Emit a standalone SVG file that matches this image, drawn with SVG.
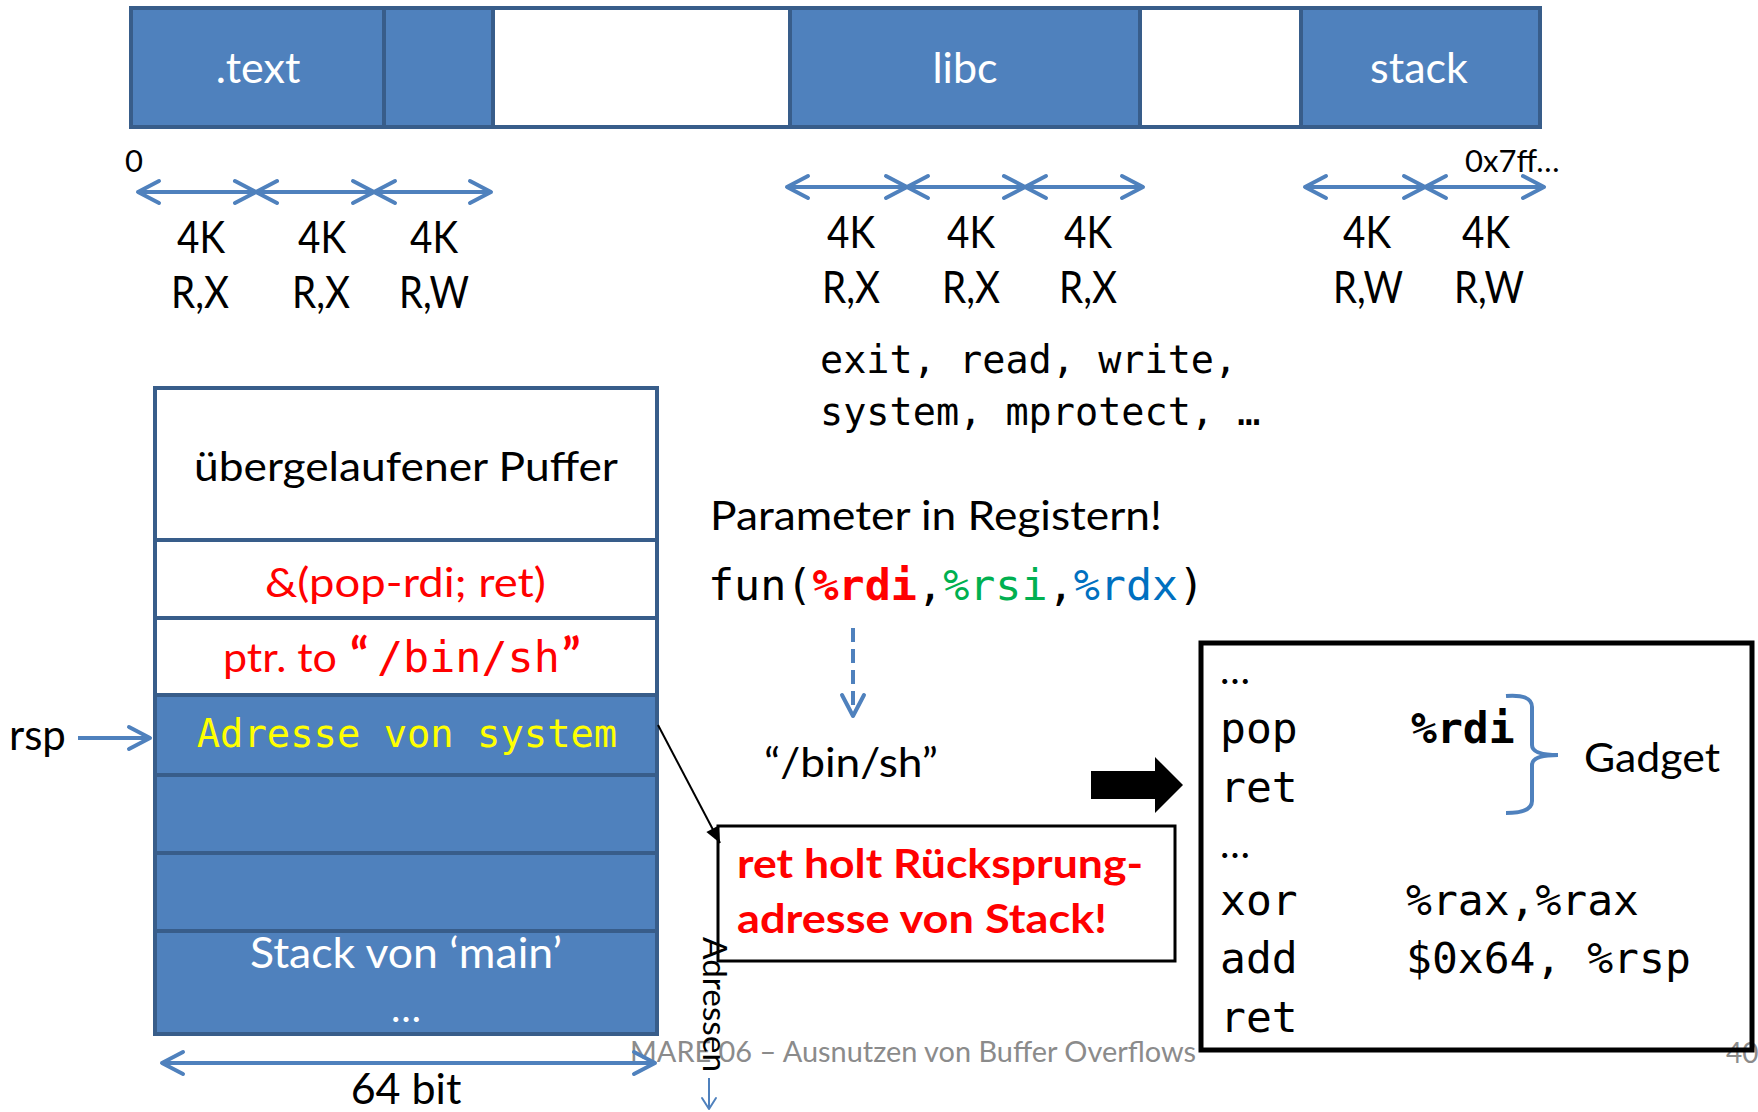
<svg xmlns="http://www.w3.org/2000/svg" width="1758" height="1112" viewBox="0 0 1758 1112">
<style>
.seg{stroke:#385D8A;stroke-width:4}
.blue{fill:#4F81BD}
.white{fill:#FFFFFF}
.sans{font-family:Lato,"Open Sans","Liberation Sans",sans-serif}
.mono{font-family:"DejaVu Sans Mono","Liberation Mono",monospace}
.lbl{font-size:44px;fill:#000;text-anchor:middle}
.barlbl{font-size:43px;fill:#FFF;text-anchor:middle}
.darr{stroke:#4F81BD;stroke-width:4;fill:none;marker-start:url(#chev);marker-end:url(#chev)}
.code{font-size:43px;fill:#000}
</style>
<defs>
<marker id="chev" markerUnits="userSpaceOnUse" markerWidth="40" markerHeight="40" viewBox="-30 -20 40 40" refX="0" refY="0" orient="auto-start-reverse">
<path d="M-21,-11 L0,0 L-21,11" fill="none" stroke="#4F81BD" stroke-width="4" stroke-linecap="round" stroke-linejoin="round"/>
</marker>
<marker id="chevThin" markerUnits="userSpaceOnUse" markerWidth="30" markerHeight="30" viewBox="-20 -15 30 30" refX="0" refY="0" orient="auto">
<path d="M-11,-7 L0,0 L-11,7" fill="none" stroke="#4F81BD" stroke-width="2" stroke-linecap="round" stroke-linejoin="round"/>
</marker>
<marker id="blackTri" markerUnits="userSpaceOnUse" markerWidth="30" markerHeight="30" viewBox="-20 -15 30 30" refX="0" refY="0" orient="auto">
<path d="M-16,-7 L0,0 L-16,7 Z" fill="#000"/>
</marker>
</defs>
<rect width="1758" height="1112" fill="#FFFFFF"/>

<g id="memory-bar">
<rect class="seg blue" x="131" y="8" width="253" height="119"/>
<rect class="seg blue" x="384" y="8" width="109" height="119"/>
<rect class="seg white" x="493" y="8" width="297" height="119"/>
<rect class="seg blue" x="790" y="8" width="350" height="119"/>
<rect class="seg white" x="1140" y="8" width="161" height="119"/>
<rect class="seg blue" x="1301" y="8" width="239" height="119"/>
<text class="sans barlbl" x="258" y="83">.text</text>
<text class="sans barlbl" x="965" y="83">libc</text>
<text class="sans barlbl" x="1419" y="83">stack</text>
</g>

<g id="addr-labels" class="sans" font-size="31px" fill="#000">
<text x="125" y="172">0</text>
<text x="1465" y="172">0x7ff…</text>
</g>

<g id="page-labels" class="sans">
<text class="lbl" x="201" y="253" textLength="48" lengthAdjust="spacingAndGlyphs">4K</text><text class="lbl" x="200" y="308" textLength="58" lengthAdjust="spacingAndGlyphs">R,X</text>
<text class="lbl" x="322" y="253" textLength="48" lengthAdjust="spacingAndGlyphs">4K</text><text class="lbl" x="321" y="308" textLength="58" lengthAdjust="spacingAndGlyphs">R,X</text>
<text class="lbl" x="434" y="253" textLength="48" lengthAdjust="spacingAndGlyphs">4K</text><text class="lbl" x="434" y="308" textLength="70" lengthAdjust="spacingAndGlyphs">R,W</text>
<text class="lbl" x="851" y="248" textLength="48" lengthAdjust="spacingAndGlyphs">4K</text><text class="lbl" x="851" y="303" textLength="58" lengthAdjust="spacingAndGlyphs">R,X</text>
<text class="lbl" x="971" y="248" textLength="48" lengthAdjust="spacingAndGlyphs">4K</text><text class="lbl" x="971" y="303" textLength="58" lengthAdjust="spacingAndGlyphs">R,X</text>
<text class="lbl" x="1088" y="248" textLength="48" lengthAdjust="spacingAndGlyphs">4K</text><text class="lbl" x="1088" y="303" textLength="58" lengthAdjust="spacingAndGlyphs">R,X</text>
<text class="lbl" x="1367" y="248" textLength="48" lengthAdjust="spacingAndGlyphs">4K</text><text class="lbl" x="1368" y="303" textLength="70" lengthAdjust="spacingAndGlyphs">R,W</text>
<text class="lbl" x="1486" y="248" textLength="48" lengthAdjust="spacingAndGlyphs">4K</text><text class="lbl" x="1489" y="303" textLength="70" lengthAdjust="spacingAndGlyphs">R,W</text>
</g>

<g id="libc-functions" class="mono" font-size="38.5px" fill="#000">
<text x="820" y="373">exit, read, write,</text>
<text x="820" y="425">system, mprotect, …</text>
</g>

<g id="stack">
<rect class="seg white" x="155" y="388" width="502" height="152"/>
<rect class="seg white" x="155" y="540" width="502" height="78"/>
<rect class="seg white" x="155" y="618" width="502" height="77"/>
<rect class="seg blue" x="155" y="695" width="502" height="80"/>
<rect class="seg blue" x="155" y="775" width="502" height="78"/>
<rect class="seg blue" x="155" y="853" width="502" height="78"/>
<rect class="seg blue" x="155" y="931" width="502" height="103"/>
<text class="sans" x="194" y="481" font-size="40px" fill="#000" textLength="424" lengthAdjust="spacingAndGlyphs">übergelaufener  Puffer</text>
<text class="sans" x="265" y="597" font-size="41px" fill="#FF0000" textLength="281" lengthAdjust="spacingAndGlyphs">&amp;(pop-rdi; ret)</text>
<text y="672" fill="#FF0000"><tspan class="sans" x="223" font-size="41px" textLength="114" lengthAdjust="spacingAndGlyphs">ptr. to</tspan><tspan class="sans" x="350" font-size="48px" font-weight="bold">“</tspan><tspan class="mono" x="377" font-size="43.4px">/bin/sh</tspan><tspan class="sans" x="562" font-size="48px" font-weight="bold">”</tspan></text>
<text class="mono" x="407" y="747" font-size="38.8px" fill="#FFFF00" text-anchor="middle">Adresse von system</text>
<text class="sans" x="250" y="968" font-size="42px" fill="#FFFFFF" textLength="312" lengthAdjust="spacingAndGlyphs">Stack von ‘main’</text>
<text class="sans" x="406" y="1022" font-size="40px" fill="#FFFFFF" text-anchor="middle">…</text>
</g>

<g id="rsp-label">
<text class="sans" x="9" y="750" font-size="42px" fill="#000">rsp</text>
</g>

<g id="width-label">
<text class="sans" x="406" y="1104" font-size="43px" fill="#000" text-anchor="middle">64 bit</text>
</g>

<g id="params">
<text class="sans" x="710" y="530" font-size="41px" fill="#000" textLength="452" lengthAdjust="spacingAndGlyphs">Parameter in Registern!</text>
<text class="mono" x="708" y="600" font-size="43.4px" fill="#000">fun(<tspan fill="#FF0000" font-weight="bold">%rdi</tspan>,<tspan fill="#00B050">%rsi</tspan>,<tspan fill="#0070C0">%rdx</tspan>)</text>
<text class="sans" x="764" y="777" font-size="41px" fill="#000" textLength="174" lengthAdjust="spacingAndGlyphs">“/bin/sh”</text>
</g>

<g id="note-box">
<rect x="718" y="826" width="457" height="135" fill="#FFFFFF" stroke="#000" stroke-width="3"/>
<text class="sans" x="737" y="878" font-size="40px" font-weight="bold" fill="#FF0000" textLength="406" lengthAdjust="spacingAndGlyphs">ret holt Rücksprung-</text>
<text class="sans" x="737" y="933" font-size="40px" font-weight="bold" fill="#FF0000" textLength="370" lengthAdjust="spacingAndGlyphs">adresse von Stack!</text>
</g>

<g id="footer" class="sans" font-size="28px" fill="#8B8B8B">
<text x="630" y="1062" textLength="566" lengthAdjust="spacingAndGlyphs">MARE 06 – Ausnutzen von Buffer Overflows</text>
<text x="1726" y="1063">40</text>
</g>

<g id="addresses-label">
<text class="sans" transform="translate(703,937) rotate(90)" font-size="33px" fill="#000" textLength="135" lengthAdjust="spacingAndGlyphs">Adressen</text>
</g>

<g id="code-box">
<rect x="1201" y="643" width="551" height="407" fill="none" stroke="#000" stroke-width="5"/>
<text class="sans" x="1220" y="684" font-size="40px" fill="#000">…</text>
<text class="mono code" x="1220" y="743">pop</text>
<text class="mono code" x="1411" y="743" fill="#FF0000" font-weight="bold">%rdi</text>
<text class="mono code" x="1220" y="802">ret</text>
<text class="sans" x="1220" y="858" font-size="40px" fill="#000">…</text>
<text class="mono code" x="1220" y="915">xor</text>
<text class="mono code" x="1406" y="915">%rax,%rax</text>
<text class="mono code" x="1220" y="973">add</text>
<text class="mono code" x="1406" y="973">$0x64, %rsp</text>
<text class="mono code" x="1220" y="1032">ret</text>
</g>

<g id="gadget">
<path d="M1506,696 Q1532,694 1532,707 L1532,745 Q1532,755 1558,755 Q1532,755 1532,765 L1532,801 Q1532,813 1506,813" fill="none" stroke="#4F81BD" stroke-width="4"/>
<text class="sans" x="1584" y="772" font-size="40px" fill="#000" textLength="136" lengthAdjust="spacingAndGlyphs">Gadget</text>
</g>

<g id="connectors">
<line class="darr" x1="138" y1="192" x2="256" y2="192"/>
<line class="darr" x1="256" y1="192" x2="374" y2="192"/>
<line class="darr" x1="374" y1="192" x2="491" y2="192"/>
<line class="darr" x1="787" y1="187" x2="907" y2="187"/>
<line class="darr" x1="907" y1="187" x2="1025" y2="187"/>
<line class="darr" x1="1025" y1="187" x2="1143" y2="187"/>
<line class="darr" x1="1305" y1="187" x2="1425" y2="187"/>
<line class="darr" x1="1425" y1="187" x2="1544" y2="187"/>
<line class="darr" x1="162" y1="1063" x2="655" y2="1063"/>
<line x1="78" y1="738" x2="150" y2="738" stroke="#4F81BD" stroke-width="4" marker-end="url(#chev)"/>
<line x1="853" y1="628" x2="853" y2="716" stroke="#4F81BD" stroke-width="4" stroke-dasharray="14 7" marker-end="url(#chev)"/>
<line x1="658" y1="725" x2="720" y2="843" stroke="#000" stroke-width="2" marker-end="url(#blackTri)"/>
<line x1="709" y1="1078" x2="709" y2="1109" stroke="#4F81BD" stroke-width="2" marker-end="url(#chevThin)"/>
<polygon points="1091,771 1155,771 1155,757 1183,785 1155,813 1155,799 1091,799" fill="#000"/>
</g>
</svg>
